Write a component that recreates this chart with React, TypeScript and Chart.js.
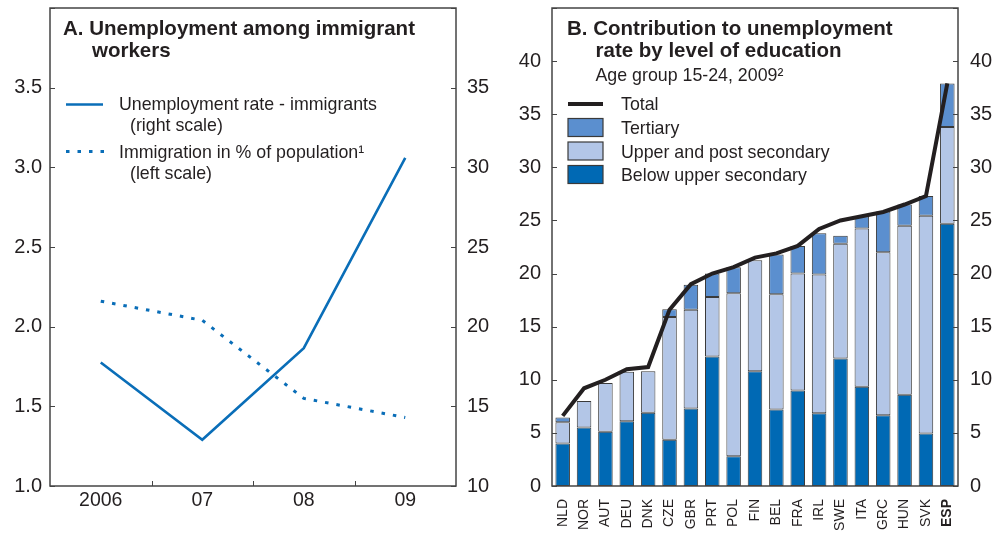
import React, { useEffect, useRef } from "react";
import { Chart, registerables } from "chart.js";

Chart.register(...registerables);

// ---------- Panel A data ----------
const yearsA = ["2006", "07", "08", "09"];
const unemploymentImmigrants = [17.75, 12.9, 18.65, 30.6]; // right scale
const immigrationPct = [2.16, 2.04, 1.55, 1.43]; // left scale

// ---------- Panel B data ----------
const countries = ["NLD", "NOR", "AUT", "DEU", "DNK", "CZE", "GBR", "PRT", "POL", "FIN", "BEL", "FRA", "IRL", "SWE", "ITA", "GRC", "HUN", "SVK", "ESP"];
const belowUpperSecondary = [4.0, 5.5, 5.1, 6.1, 6.9, 4.35, 7.3, 12.2, 2.8, 10.8, 7.2, 9.0, 6.85, 12.0, 9.35, 6.65, 8.6, 4.95, 24.7];
const upperPostSecondary = [2.0, 2.5, 4.6, 4.65, 3.9, 11.55, 9.3, 5.6, 15.35, 10.45, 10.85, 11.0, 13.05, 10.8, 14.9, 15.35, 15.9, 20.5, 9.1];
const tertiary = [0.45, 0, 0, 0, 0, 0.75, 2.35, 2.2, 2.45, 0, 3.75, 2.6, 3.9, 0.75, 1.15, 3.85, 2.0, 1.85, 4.1];
const totalB = [6.6, 9.2, 10.0, 11.0, 11.2, 16.6, 19.0, 20.0, 20.6, 21.5, 21.9, 22.6, 24.2, 25.0, 25.4, 25.8, 26.5, 27.3, 37.9];

const FONT = "'Liberation Sans', Arial, Helvetica, sans-serif";
const TEXT = "#231F20";
const BLUE = "#0A6EB8";
const C_BELOW = "#0069B4";
const C_UPPER = "#B3C6E7";
const C_TERT = "#5B8FCF";
const FRAME = "#444444";
const LEG = 17.8;

type TextItem = { t: string; x: number; y: number; bold?: boolean; size: number };

function fixBox(dim: "width" | "height", val: number) {
  return (s: any) => {
    s[dim] = val;
    s.paddingTop = 0;
    s.paddingBottom = 0;
    s.paddingLeft = 0;
    s.paddingRight = 0;
  };
}

function framePlugin(opts: {
  texts: TextItem[];
  legend: (ctx: CanvasRenderingContext2D) => void;
  xBoundaryTicks: boolean;
}) {
  return {
    id: "frameAndText",
    afterDraw(chart: any) {
      const ctx: CanvasRenderingContext2D = chart.ctx;
      const a = chart.chartArea;
      ctx.save();
      ctx.strokeStyle = FRAME;
      ctx.lineWidth = 1;
      const yL = chart.scales.y;
      const yR = chart.scales.y1;
      yL.ticks.forEach((tk: any) => {
        const py = Math.round(yL.getPixelForValue(tk.value)) + 0.5;
        ctx.beginPath();
        ctx.moveTo(a.left, py);
        ctx.lineTo(a.left + 5, py);
        ctx.stroke();
      });
      yR.ticks.forEach((tk: any) => {
        const py = Math.round(yR.getPixelForValue(tk.value)) + 0.5;
        ctx.beginPath();
        ctx.moveTo(a.right - 5, py);
        ctx.lineTo(a.right, py);
        ctx.stroke();
      });
      if (opts.xBoundaryTicks) {
        const xs = chart.scales.x;
        const n = chart.data.labels.length;
        for (let i = 0; i < n - 1; i++) {
          const px = Math.round((xs.getPixelForValue(i) + xs.getPixelForValue(i + 1)) / 2) + 0.5;
          ctx.beginPath();
          ctx.moveTo(px, a.bottom);
          ctx.lineTo(px, a.bottom - 5);
          ctx.stroke();
        }
      }
      ctx.lineWidth = 1.5;
      ctx.strokeStyle = FRAME;
      ctx.strokeRect(a.left, a.top, a.right - a.left, a.bottom - a.top);
      ctx.fillStyle = TEXT;
      ctx.textBaseline = "alphabetic";
      ctx.textAlign = "left";
      opts.texts.forEach((it) => {
        ctx.font = `${it.bold ? "bold " : ""}${it.size}px ${FONT}`;
        ctx.fillText(it.t, it.x, it.y);
      });
      opts.legend(ctx);
      ctx.restore();
    },
  };
}

function PanelA() {
  const ref = useRef<HTMLCanvasElement>(null);
  useEffect(() => {
    if (!ref.current) return;
    const texts: TextItem[] = [
      { t: "A. Unemployment among immigrant", x: 63, y: 35, bold: true, size: 20.5 },
      { t: "workers", x: 92, y: 56.5, bold: true, size: 20.5 },
      { t: "Unemployment rate - immigrants", x: 119, y: 110, size: LEG },
      { t: "(right scale)", x: 130, y: 131, size: LEG },
      { t: "Immigration in % of population\u00B9", x: 119, y: 157.5, size: LEG },
      { t: "(left scale)", x: 130, y: 178.5, size: LEG },
    ];
    const chart = new Chart(ref.current, {
      type: "line",
      data: {
        labels: yearsA,
        datasets: [
          {
            label: "Unemployment rate - immigrants (right scale)",
            data: unemploymentImmigrants,
            yAxisID: "y1",
            borderColor: BLUE,
            borderWidth: 2.6,
            pointRadius: 0,
            tension: 0,
          },
          {
            label: "Immigration in % of population (left scale)",
            data: immigrationPct,
            yAxisID: "y",
            borderColor: BLUE,
            borderWidth: 3,
            borderDash: [3.5, 8],
            pointRadius: 0,
            tension: 0,
          },
        ],
      },
      options: {
        responsive: false,
        animation: false,
        layout: { padding: { top: 8, left: 0, right: 0, bottom: 0 } },
        plugins: { legend: { display: false }, tooltip: { enabled: false } },
        scales: {
          x: {
            offset: true,
            grid: { display: false, drawTicks: false },
            border: { display: false },
            ticks: { color: TEXT, font: { size: 19.5, family: FONT }, padding: 3 },
            afterFit: fixBox("height", 50),
          },
          y: {
            position: "left",
            min: 1,
            max: 4,
            grid: { display: false, drawTicks: false },
            border: { display: false },
            ticks: {
              stepSize: 0.5,
              color: TEXT,
              font: { size: 20, family: FONT },
              padding: 8,
              callback: (v: any) => (Number(v) >= 4 ? "" : Number(v).toFixed(1)),
            },
            afterFit: fixBox("width", 50),
          },
          y1: {
            position: "right",
            min: 10,
            max: 40,
            grid: { display: false, drawTicks: false },
            border: { display: false },
            ticks: {
              stepSize: 5,
              color: TEXT,
              font: { size: 20, family: FONT },
              padding: 11,
              callback: (v: any) => (Number(v) >= 40 ? "" : String(v)),
            },
            afterFit: fixBox("width", 44),
          },
        },
      },
      plugins: [
        framePlugin({
          texts,
          xBoundaryTicks: true,
          legend: (ctx) => {
            ctx.strokeStyle = BLUE;
            ctx.lineWidth = 2.6;
            ctx.setLineDash([]);
            ctx.beginPath();
            ctx.moveTo(66, 104.5);
            ctx.lineTo(103, 104.5);
            ctx.stroke();
            ctx.lineWidth = 3;
            ctx.setLineDash([3.5, 8]);
            ctx.beginPath();
            ctx.moveTo(66, 151.5);
            ctx.lineTo(104, 151.5);
            ctx.stroke();
            ctx.setLineDash([]);
          },
        }) as any,
      ],
    } as any);
    return () => chart.destroy();
  }, []);
  return <canvas ref={ref} width={500} height={536} style={{ position: "absolute", left: 0, top: 0 }} />;
}

function PanelB() {
  const ref = useRef<HTMLCanvasElement>(null);
  useEffect(() => {
    if (!ref.current) return;
    const texts: TextItem[] = [
      { t: "B. Contribution to unemployment", x: 67, y: 35, bold: true, size: 20.5 },
      { t: "rate by level of education", x: 95.5, y: 56.5, bold: true, size: 20.5 },
      { t: "Age group 15-24, 2009\u00B2", x: 95.5, y: 81, size: LEG },
      { t: "Total", x: 121, y: 110, size: LEG },
      { t: "Tertiary", x: 121, y: 133.5, size: LEG },
      { t: "Upper and post secondary", x: 121, y: 157.5, size: LEG },
      { t: "Below upper secondary", x: 121, y: 181, size: LEG },
    ];
    const barCommon = {
      borderColor: "#3a3a3a",
      borderWidth: 1,
      borderSkipped: false,
      barPercentage: 0.68,
      categoryPercentage: 1,
      stack: "edu",
      order: 1,
    };
    const chart = new Chart(ref.current, {
      type: "bar",
      data: {
        labels: countries,
        datasets: [
          {
            type: "line",
            label: "Total",
            data: totalB,
            borderColor: "#231F20",
            borderWidth: 4,
            pointRadius: 0,
            tension: 0,
            stack: "total",
            order: 0,
          },
          { label: "Below upper secondary", data: belowUpperSecondary, backgroundColor: C_BELOW, ...barCommon },
          { label: "Upper and post secondary", data: upperPostSecondary, backgroundColor: C_UPPER, ...barCommon },
          { label: "Tertiary", data: tertiary, backgroundColor: C_TERT, ...barCommon },
        ],
      },
      options: {
        responsive: false,
        animation: false,
        layout: { padding: { top: 8, left: 0, right: 0, bottom: 0 } },
        plugins: { legend: { display: false }, tooltip: { enabled: false } },
        scales: {
          x: {
            stacked: true,
            grid: { display: false, drawTicks: false },
            border: { display: false },
            ticks: {
              autoSkip: false,
              minRotation: 90,
              maxRotation: 90,
              padding: 13,
              color: TEXT,
              font: (c: any) => ({ size: 14, family: FONT, weight: c.index === countries.length - 1 ? "bold" : "normal" }),
            },
            afterFit: fixBox("height", 50),
          },
          y: {
            stacked: true,
            position: "left",
            min: 0,
            max: 45,
            grid: { display: false, drawTicks: false },
            border: { display: false },
            ticks: {
              stepSize: 5,
              color: TEXT,
              font: { size: 20, family: FONT },
              padding: 11,
              callback: (v: any) => (Number(v) >= 45 ? "" : String(v)),
            },
            afterFit: fixBox("width", 52),
          },
          y1: {
            position: "right",
            min: 0,
            max: 45,
            grid: { display: false, drawTicks: false },
            border: { display: false },
            ticks: {
              stepSize: 5,
              color: TEXT,
              font: { size: 20, family: FONT },
              padding: 12,
              callback: (v: any) => (Number(v) >= 45 ? "" : String(v)),
            },
            afterFit: fixBox("width", 40),
          },
        },
      },
      plugins: [
        framePlugin({
          texts,
          xBoundaryTicks: false,
          legend: (ctx) => {
            ctx.strokeStyle = "#231F20";
            ctx.lineWidth = 4;
            ctx.beginPath();
            ctx.moveTo(68, 104);
            ctx.lineTo(103, 104);
            ctx.stroke();
            const boxes: [string, number][] = [[C_TERT, 118.5], [C_UPPER, 142], [C_BELOW, 165.5]];
            ctx.lineWidth = 1.2;
            ctx.strokeStyle = "#3a3a3a";
            boxes.forEach(([col, y]) => {
              ctx.fillStyle = col;
              ctx.fillRect(68, y, 35, 18);
              ctx.strokeRect(68, y, 35, 18);
            });
          },
        }) as any,
      ],
    } as any);
    return () => chart.destroy();
  }, []);
  return <canvas ref={ref} width={498} height={536} style={{ position: "absolute", left: 500, top: 0 }} />;
}

export default function App() {
  return (
    <div style={{ position: "fixed", left: 0, top: 0, width: 998, height: 536, background: "#fff", overflow: "hidden" }}>
      <PanelA />
      <PanelB />
    </div>
  );
}
